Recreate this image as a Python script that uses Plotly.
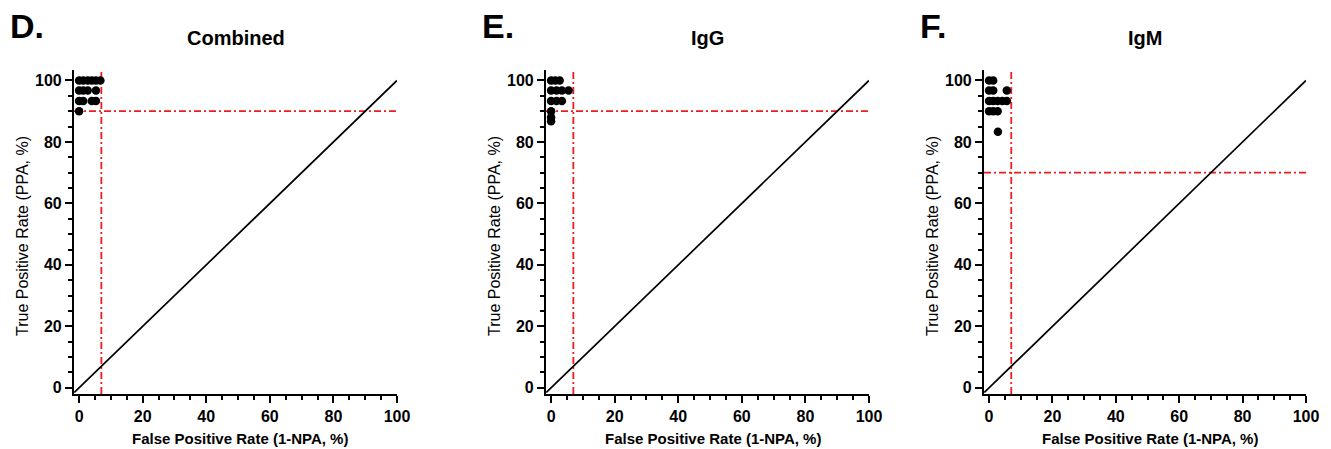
import plotly.graph_objects as go
from plotly.subplots import make_subplots

# panel labels / titles
PANELS = ["D.", "E.", "F."]
TITLES = ["Combined", "IgG", "IgM"]
X_TITLE = "False Positive Rate (1-NPA, %)"
Y_TITLE = "True Positive Rate (PPA, %)"

# false positive rate (x) and true positive rate (y), %
comb_fpr = [0, 1.3, 2.7, 4, 5.3, 6.7, 0, 1.3, 2.7, 5.3, 0, 1.3, 4, 5.3, 0]
comb_tpr = [100, 100, 100, 100, 100, 100, 96.7, 96.7, 96.7, 96.7, 93.3, 93.3, 93.3, 93.3, 90]

igg_fpr = [0, 1.3, 2.7, 0, 1.7, 3.4, 5.5, 0, 1.7, 3.4, 0, 0, 0]
igg_tpr = [100, 100, 100, 96.7, 96.7, 96.7, 96.7, 93.3, 93.3, 93.3, 90, 88, 86.7]

igm_fpr = [0, 1.3, 0, 1.3, 5.6, 0, 1.3, 2.7, 4.2, 5.6, 0, 1.3, 2.7, 2.8]
igm_tpr = [100, 100, 96.7, 96.7, 96.7, 93.3, 93.3, 93.3, 93.3, 93.3, 90, 90, 90, 83.3]

FPR = [comb_fpr, igg_fpr, igm_fpr]
TPR = [comb_tpr, igg_tpr, igm_tpr]

# cut-offs (red dash-dot lines)
CUT_FPR = [7, 7, 7]
CUT_TPR = [90, 90, 70]

# line of no discrimination
DIAG = [-1.5, 100]

X_RANGE = [-1.6, 100]
Y_RANGE = [-2, 103.4]

W, H = 1331, 449
X_DOM = [(74, 397), (546, 869), (984, 1306)]
Y_DOM = (70, 394)

FONT = "Liberation Sans, Arial, sans-serif"
RED = "#ee1c1c"
DASH = "7px,3px,2px,3px"

fig = make_subplots(rows=1, cols=3)

for i in range(3):
    c = i + 1
    fig.add_trace(
        go.Scatter(x=DIAG, y=DIAG, mode="lines",
                   line=dict(color="black", width=1.7), hoverinfo="skip"),
        row=1, col=c,
    )
    fig.add_vline(x=CUT_FPR[i], line=dict(color=RED, width=1.8, dash=DASH),
                  layer="below", row=1, col=c)
    fig.add_hline(y=CUT_TPR[i], line=dict(color=RED, width=1.8, dash=DASH),
                  layer="below", row=1, col=c)
    fig.add_trace(
        go.Scatter(x=FPR[i], y=TPR[i], mode="markers",
                   marker=dict(color="black", size=8.5, line=dict(width=0)),
                   hovertemplate="FPR %{x}<br>TPR %{y}<extra></extra>"),
        row=1, col=c,
    )

    x0, x1 = X_DOM[i]
    fig.update_xaxes(
        domain=[x0 / W, x1 / W], range=X_RANGE, dtick=20, tick0=0, automargin=False,
        showgrid=False, zeroline=False, showline=True, linecolor="black", linewidth=2.2,
        ticks="outside", ticklen=7, tickwidth=2, tickcolor="black",
        minor=dict(dtick=5, tick0=0, ticks="outside", ticklen=4, tickwidth=2, tickcolor="black"),
        tickfont=dict(family=FONT, size=16, color="black", weight="bold"),
        row=1, col=c,
    )
    fig.update_yaxes(
        domain=[1 - Y_DOM[1] / H, 1 - Y_DOM[0] / H], range=Y_RANGE, dtick=20, tick0=0,
        automargin=False,
        showgrid=False, zeroline=False, showline=True, linecolor="black", linewidth=2.2,
        ticks="outside", ticklen=7, tickwidth=2, tickcolor="black",
        minor=dict(dtick=5, tick0=0, ticks="outside", ticklen=4, tickwidth=2, tickcolor="black"),
        tickfont=dict(family=FONT, size=16, color="black", weight="bold"),
        row=1, col=c,
    )

    # axis titles, panel titles and letters
    fig.add_annotation(text="<b>%s</b>" % X_TITLE, xref="paper", yref="paper",
                       x=(x0 + x1 + 10) / 2 / W, y=1 - 438 / H, showarrow=False,
                       xanchor="center", yanchor="middle",
                       font=dict(family=FONT, size=15, color="black"))
    fig.add_annotation(text=Y_TITLE, xref="paper", yref="paper", textangle=-90,
                       x=(x0 - 52) / W, y=1 - 236 / H, showarrow=False,
                       xanchor="center", yanchor="middle",
                       font=dict(family=FONT, size=16, color="black"))
    fig.add_annotation(text="<b>%s</b>" % TITLES[i], xref="paper", yref="paper",
                       x=(x0 + x1) / 2 / W, y=1 - 38 / H, showarrow=False,
                       xanchor="center", yanchor="middle",
                       font=dict(family=FONT, size=20, color="black"))
    fig.add_annotation(text="<b>%s</b>" % PANELS[i], xref="paper", yref="paper",
                       x=(x0 - 66) / W, y=1 - 26 / H, showarrow=False,
                       xanchor="left", yanchor="middle",
                       font=dict(family=FONT, size=34, color="black"))

fig.update_layout(
    width=W, height=H, margin=dict(l=0, r=0, t=0, b=0),
    plot_bgcolor="white", paper_bgcolor="white", showlegend=False,
)

# the page's default body margin would push the figure 8px down and right
fig.write_html("out.html", config={"displayModeBar": False},
               post_script="document.body.style.margin='0';")
